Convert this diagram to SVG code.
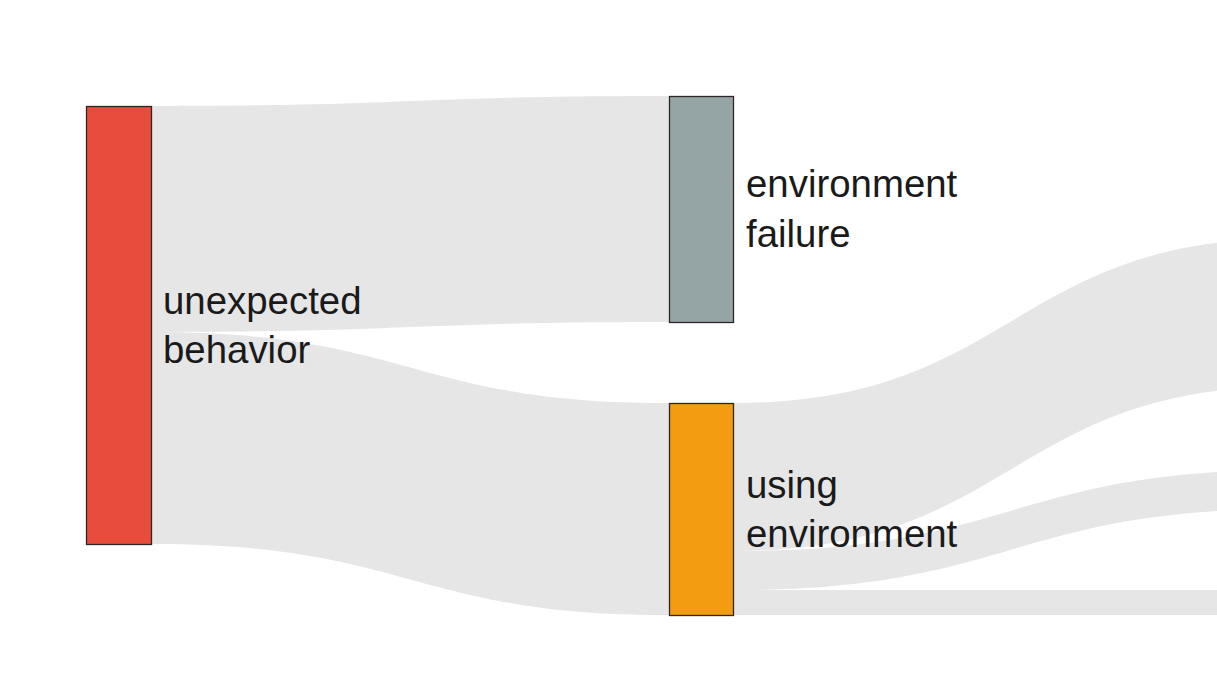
<svg xmlns="http://www.w3.org/2000/svg" width="1217" height="686" viewBox="0 0 1217 686">
<style>
.link{fill:#e6e6e6;stroke:none}
.node{stroke:#2e2626;stroke-width:1.3}
.label{font-family:"Liberation Sans",Arial,sans-serif;font-size:38.4px;fill:#1a1a1a}
</style>
<rect x="0" y="0" width="1217" height="686" fill="#ffffff"/>
<g id="links">
<path class="link" d="M152,106 C410.5,106 410.5,96 669,96 L669,322 C410.5,322 410.5,332 152,332 Z"/>
<path class="link" d="M152,332 C410.5,332 410.5,403 669,403 L669,615 C410.5,615 410.5,544 152,544 Z"/>
<path class="link" d="M734,403 C1012,403 1012,238.6 1290,238.6 L1290,386.6 C1012,386.6 1012,551 734,551 Z"/>
<path class="link" d="M734,551 C1012,551 1012,469.8 1290,469.8 L1290,508.8 C1012,508.8 1012,590 734,590 Z"/>
<path class="link" d="M734,590 L1290,590 L1290,615 L734,615 Z"/>
</g>
<g id="node-unexpected-behavior">
<rect class="node" x="86.5" y="106.5" width="65" height="438" fill="#e74c3c"/>
<text class="label" x="163" y="314">unexpected</text>
<text class="label" x="163" y="363">behavior</text>
</g>
<g id="node-environment-failure">
<rect class="node" x="669.5" y="96.5" width="64" height="226" fill="#95a5a6"/>
<text class="label" x="746" y="197">environment</text>
<text class="label" x="746" y="247">failure</text>
</g>
<g id="node-using-environment">
<rect class="node" x="669.5" y="403.5" width="64" height="212" fill="#f39c12"/>
<text class="label" x="746" y="498">using</text>
<text class="label" x="746" y="547">environment</text>
</g>
</svg>
